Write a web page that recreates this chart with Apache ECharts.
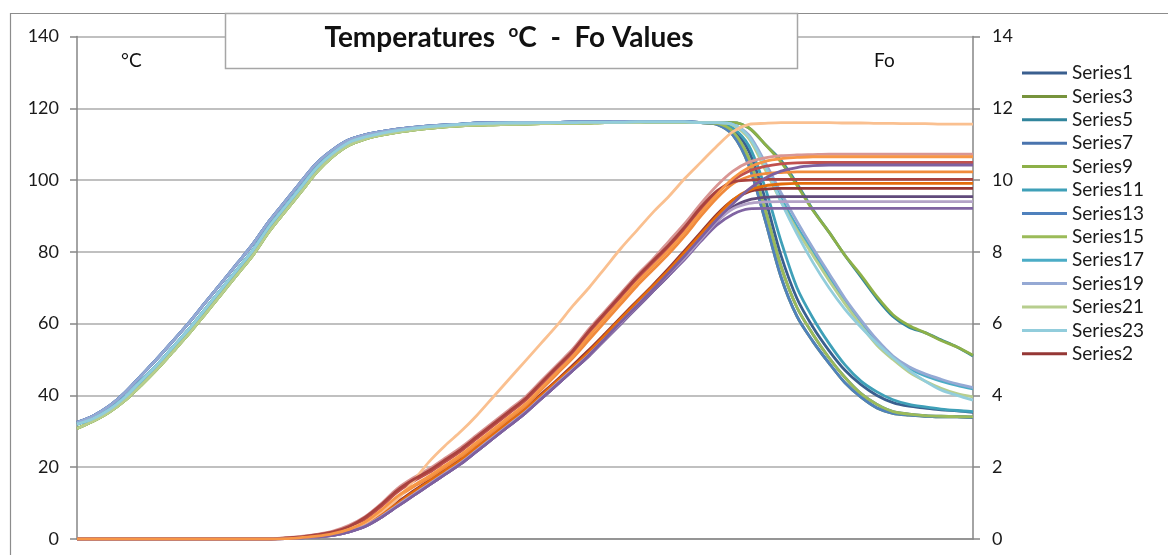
<!DOCTYPE html>
<html>
<head>
<meta charset="utf-8">
<script src="https://cdn.jsdelivr.net/npm/echarts@6/dist/echarts.min.js"></script>
<style>
html,body{margin:0;padding:0;background:#fff;}
#c{width:1168px;height:555px;}
</style>
</head>
<body>
<div id="c"></div>
<script>
// ---- categories (time steps) ----
const steps = [];
for (let i = 1; i <= 57; i++) steps.push(String(i));

// ---- axis ticks ----
const tempTicks = [0, 20, 40, 60, 80, 100, 120, 140];
const foTicks = [0, 2, 4, 6, 8, 10, 12, 14];

// ---- temperature series (left axis, degC) ----
const series1 = [32.5,34.3,37,40.8,45.5,50.2,55.2,60.3,65.8,71.2,76.7,82.2,88.5,94,99.5,104.8,108.5,111.2,112.6,113.5,114.2,114.7,115.1,115.4,115.6,
  115.9,116,116,116.1,116.1,116.1,116.2,116.2,116.2,116.3,116.3,116.3,116.3,116.3,
  116,115.8,114,108,95,79,67,59,52.5,47,43,40,38,37,36.5,36,35.7,35.3];
const series3 = [30.8,32.8,35.3,38.6,42.8,47.3,52.2,57.2,62.6,68.1,73.6,79.1,85.6,91.2,96.7,102.3,106.6,109.7,111.4,112.5,113.3,113.9,114.4,114.8,115.1,
  115.3,115.4,115.5,115.6,115.7,115.8,115.8,115.9,116,116,116,116.1,116.1,116.1,
  116,115.5,112.5,104,89,73,62,55,49,43.5,39.5,36.5,35,34.5,34.2,34,34,33.8];
const series5 = [32,33.5,36,39.5,44,48.5,53.5,58.5,64,69.5,75,80.5,87,92.5,98,103.5,107.5,110.5,112,113,113.8,114.4,114.9,115.2,115.5,
  115.7,115.8,115.9,115.9,116,116,116,116.1,116.1,116.1,116.2,116.2,116.2,116.2,
  116,116,116,114.5,110,105.5,99,91.7,85.5,79,73,67,62,59,57.5,55.5,53.5,51];
const series7 = [32.5,34.3,37,40.8,45.5,50.2,55.2,60.3,65.8,71.2,76.7,82.2,88.5,94,99.5,104.8,108.5,111.2,112.6,113.5,114.2,114.7,115.1,115.4,115.6,
  115.9,116,116,116.1,116.1,116.1,116.2,116.2,116.2,116.3,116.3,116.3,116.3,116.3,
  116,115.8,113.5,106,92,76,64.5,57,50.5,45,40.5,37.5,35.5,34.8,34.4,34.2,34.1,34];
const series9 = [30.8,32.8,35.3,38.6,42.8,47.3,52.2,57.2,62.6,68.1,73.6,79.1,85.6,91.2,96.7,102.3,106.6,109.7,111.4,112.5,113.3,113.9,114.4,114.8,115.1,
  115.3,115.4,115.5,115.6,115.7,115.8,115.8,115.9,116,116,116,116.1,116.1,116.1,
  116,116,116,114.5,110,105,98.5,91.5,85.5,79,73.5,67.5,62.5,59.5,57.5,55.3,53.5,51.2];
const series11 = [32,33.5,36,39.5,44,48.5,53.5,58.5,64,69.5,75,80.5,87,92.5,98,103.5,107.5,110.5,112,113,113.8,114.4,114.9,115.2,115.5,
  115.7,115.8,115.9,115.9,116,116,116,116.1,116.1,116.1,116.2,116.2,116.2,116.2,
  116,116,114.5,109.5,98,83,70,61.5,54.5,48.5,44,41,38.8,37.5,36.8,36.2,35.8,35.5];
const series13 = [32.5,34.3,37,40.8,45.5,50.2,55.2,60.3,65.8,71.2,76.7,82.2,88.5,94,99.5,104.8,108.5,111.2,112.6,113.5,114.2,114.7,115.1,115.4,115.6,
  115.9,116,116,116.1,116.1,116.1,116.2,116.2,116.2,116.3,116.3,116.3,116.3,116.3,
  116,115.5,112.5,104,89,73,62,55,49,43.5,39.5,36.5,35,34.5,34.2,34,34,33.8];
const series15 = [30.8,32.8,35.3,38.6,42.8,47.3,52.2,57.2,62.6,68.1,73.6,79.1,85.6,91.2,96.7,102.3,106.6,109.7,111.4,112.5,113.3,113.9,114.4,114.8,115.1,
  115.3,115.4,115.5,115.6,115.7,115.8,115.8,115.9,116,116,116,116.1,116.1,116.1,
  116,115.8,113.5,106,92,76,64.5,57,50.5,45,40.5,37.5,35.5,34.8,34.4,34.2,34.1,34];
const series17 = [32,33.5,36,39.5,44,48.5,53.5,58.5,64,69.5,75,80.5,87,92.5,98,103.5,107.5,110.5,112,113,113.8,114.4,114.9,115.2,115.5,
  115.7,115.8,115.9,115.9,116,116,116,116.1,116.1,116.1,116.2,116.2,116.2,116.2,
  116,116,115.5,112,104,95,87,80,73,66.5,60.5,55,50.5,47.5,45.5,44,42.8,41.8];
const series19 = [32.5,34.3,37,40.8,45.5,50.2,55.2,60.3,65.8,71.2,76.7,82.2,88.5,94,99.5,104.8,108.5,111.2,112.6,113.5,114.2,114.7,115.1,115.4,115.6,
  115.9,116,116,116.1,116.1,116.1,116.2,116.2,116.2,116.3,116.3,116.3,116.3,116.3,
  116,116,115.5,112.5,105,96.5,88.5,81,74,67,61,55.5,51,48,46,44.5,43.2,42.2];
const series21 = [30.8,32.8,35.3,38.6,42.8,47.3,52.2,57.2,62.6,68.1,73.6,79.1,85.6,91.2,96.7,102.3,106.6,109.7,111.4,112.5,113.3,113.9,114.4,114.8,115.1,
  115.3,115.4,115.5,115.6,115.7,115.8,115.8,115.9,116,116,116,116.1,116.1,116.1,
  116,116,115.3,111.5,103,94,86,79,72,65.5,59.5,54,50,46.5,44,42,40.5,39.6];
const series23 = [32,33.5,36,39.5,44,48.5,53.5,58.5,64,69.5,75,80.5,87,92.5,98,103.5,107.5,110.5,112,113,113.8,114.4,114.9,115.2,115.5,
  115.7,115.8,115.9,115.9,116,116,116,116.1,116.1,116.1,116.2,116.2,116.2,116.2,
  116,116,115.5,112,104,94,85,77,70,64,59,54.5,50.5,47,44,41.5,40,38.7];

// ---- Fo series (right axis) ----
const series2 = [0,0,0,0,0,0,0,0,0,0,0,0,0,
  0.02,0.05,0.09,0.14,0.25,0.42,0.7,1.02,1.33,1.63,1.93,2.23,2.58,2.93,3.28,3.63,4.03,4.43,4.85,5.27,5.72,6.18,6.63,7.08,7.55,8.05,8.55,9.05,9.45,9.68,
  9.75,9.77,9.77,9.77,9.77,9.77,9.77,9.77,9.77,9.77,9.77,9.77,9.77,9.77];
const series4 = [0,0,0,0,0,0,0,0,0,0,0,0,0,
  0.01,0.03,0.06,0.1,0.2,0.35,0.6,0.9,1.2,1.5,1.8,2.1,2.45,2.8,3.15,3.5,3.9,4.3,4.7,5.1,5.55,6.0,6.45,6.9,7.35,7.85,8.35,8.85,9.25,9.45,
  9.52,9.54,9.54,9.54,9.54,9.54,9.54,9.54,9.54,9.54,9.54,9.54,9.54,9.54];
const series6 = [0,0,0,0,0,0,0,0,0,0,0,0,0,
  0.02,0.04,0.08,0.13,0.24,0.4,0.67,0.98,1.3,1.6,1.9,2.2,2.55,2.9,3.25,3.6,4.0,4.4,4.8,5.22,5.68,6.15,6.6,7.05,7.5,8.0,8.5,9.0,9.45,9.72,
  9.84,9.89,9.91,9.91,9.91,9.91,9.91,9.91,9.91,9.91,9.91,9.91,9.91,9.91];
const series8 = [0,0,0,0,0,0,0,0,0,0,0,0,0,
  0.02,0.05,0.1,0.18,0.32,0.55,0.9,1.3,1.6,1.85,2.15,2.45,2.8,3.15,3.5,3.85,4.3,4.75,5.2,5.75,6.25,6.75,7.25,7.7,8.15,8.65,9.2,9.65,10.0,10.25,
  10.38,10.45,10.48,10.49,10.49,10.49,10.49,10.49,10.49,10.49,10.49,10.49,10.49,10.49];
const series10 = [0,0,0,0,0,0,0,0,0,0,0,0,0,
  0.01,0.03,0.06,0.1,0.2,0.35,0.6,0.9,1.2,1.5,1.8,2.1,2.45,2.8,3.15,3.5,3.9,4.3,4.7,5.1,5.55,6.0,6.45,6.9,7.35,7.8,8.3,8.75,9.05,9.2,
  9.21,9.21,9.21,9.21,9.21,9.21,9.21,9.21,9.21,9.21,9.21,9.21,9.21,9.21];
const series12 = [0,0,0,0,0,0,0,0,0,0,0,0,0,
  0.01,0.04,0.08,0.15,0.27,0.47,0.78,1.15,1.45,1.7,2.0,2.3,2.65,3.0,3.35,3.7,4.15,4.6,5.05,5.55,6.05,6.55,7.05,7.5,7.95,8.45,9.0,9.5,9.9,10.1,
  10.18,10.21,10.23,10.23,10.23,10.23,10.23,10.23,10.23,10.23,10.23,10.23,10.23,10.23];
const series14 = [0,0,0,0,0,0,0,0,0,0,0,0,0,
  0.03,0.07,0.13,0.22,0.38,0.62,0.98,1.4,1.7,1.95,2.25,2.55,2.9,3.25,3.6,3.95,4.4,4.85,5.3,5.85,6.35,6.85,7.35,7.8,8.3,8.8,9.35,9.85,10.25,10.5,
  10.62,10.68,10.7,10.71,10.72,10.72,10.72,10.72,10.72,10.72,10.72,10.72,10.72,10.72];
const series16 = [0,0,0,0,0,0,0,0,0,0,0,0,0,
  0.01,0.03,0.06,0.11,0.21,0.37,0.62,0.93,1.23,1.53,1.83,2.13,2.48,2.83,3.18,3.53,3.93,4.33,4.73,5.13,5.58,6.03,6.5,6.95,7.4,7.85,8.35,8.85,9.2,9.35,
  9.39,9.4,9.4,9.4,9.4,9.4,9.4,9.4,9.4,9.4,9.4,9.4,9.4,9.4];
const series18 = [0,0,0,0,0,0,0,0,0,0,0,0,0,
  0.02,0.05,0.1,0.17,0.3,0.45,0.75,1.1,1.6,2.15,2.6,3.0,3.45,3.95,4.45,4.95,5.45,5.95,6.5,7.0,7.55,8.1,8.6,9.1,9.55,10.05,10.5,10.95,11.35,11.55,
  11.58,11.6,11.6,11.6,11.6,11.59,11.59,11.58,11.58,11.57,11.57,11.56,11.56,11.56];
const series20 = [0,0,0,0,0,0,0,0,0,0,0,0,0,
  0.03,0.06,0.12,0.2,0.35,0.6,0.95,1.35,1.65,1.9,2.2,2.5,2.85,3.2,3.55,3.9,4.35,4.8,5.25,5.8,6.3,6.8,7.3,7.75,8.2,8.7,9.25,9.7,9.95,10.0,
  10.02,10.02,10.02,10.02,10.02,10.02,10.02,10.02,10.02,10.02,10.02,10.02,10.02,10.02];
const series22 = [0,0,0,0,0,0,0,0,0,0,0,0,0,
  0.01,0.03,0.06,0.1,0.2,0.35,0.6,0.9,1.2,1.5,1.8,2.1,2.45,2.8,3.15,3.5,3.9,4.3,4.7,5.12,5.58,6.05,6.5,6.95,7.42,7.9,8.4,8.9,9.35,9.75,
  10.05,10.25,10.35,10.4,10.42,10.42,10.42,10.42,10.42,10.42,10.42,10.42,10.42,10.42];
const series24 = [0,0,0,0,0,0,0,0,0,0,0,0,0,
  0.01,0.04,0.08,0.15,0.27,0.47,0.8,1.18,1.48,1.75,2.05,2.35,2.7,3.05,3.4,3.75,4.2,4.65,5.1,5.65,6.15,6.65,7.15,7.6,8.05,8.55,9.1,9.6,10.05,10.35,
  10.52,10.6,10.63,10.65,10.65,10.65,10.65,10.65,10.65,10.65,10.65,10.65,10.65,10.65];

const tempNames = ['Series1','Series3','Series5','Series7','Series9','Series11','Series13','Series15','Series17','Series19','Series21','Series23'];
const tempData = [series1,series3,series5,series7,series9,series11,series13,series15,series17,series19,series21,series23];
const tempColors = ['#3a5f8f','#77933c','#31859c','#4a74ae','#8db048','#3fa0b8','#4f81bd','#9bbb59','#4bacc6','#95a9d4','#b7ce8e','#92cddc'];

const foNames = ['Series2','Series4','Series6','Series8','Series10','Series12','Series14','Series16','Series18','Series20','Series22','Series24'];
const foData = [series2,series4,series6,series8,series10,series12,series14,series16,series18,series20,series22,series24];
const foColors = ['#953735','#604a7b','#e46c0a','#c0504d','#8064a2','#f08a3c','#d99694','#b3a2c7','#fac090','#a9423f','#7d60a0','#f79646'];

const legendNames = tempNames.concat(['Series2']);

const FONT = 'Lato, "Open Sans", sans-serif';

const seriesList = [];
tempNames.forEach((n, k) => seriesList.push({
  name: n, type: 'line', yAxisIndex: 0, data: tempData[k], smooth: 0.3,
  symbol: 'none', lineStyle: { width: 2.8, color: tempColors[k] }, itemStyle: { color: tempColors[k] }
}));
foNames.forEach((n, k) => seriesList.push({
  name: n, type: 'line', yAxisIndex: 1, data: foData[k], smooth: 0.3,
  symbol: 'none', lineStyle: { width: 2.8, color: foColors[k] }, itemStyle: { color: foColors[k] }
}));

const chart = echarts.init(document.getElementById('c'), null, { renderer: 'canvas' });
chart.setOption({
  animation: false,
  backgroundColor: '#ffffff',
  grid: { left: 77, right: 195, top: 36.5, bottom: 16, containLabel: false },
  xAxis: {
    type: 'category', data: steps, boundaryGap: false,
    axisLine: { show: true, lineStyle: { color: '#868686', width: 1.5 } },
    axisTick: { show: false }, axisLabel: { show: false }, splitLine: { show: false }
  },
  yAxis: [
    {
      type: 'value', min: tempTicks[0], max: tempTicks[tempTicks.length - 1], interval: 20,
      axisLine: { show: true, lineStyle: { color: '#868686', width: 1.5 } },
      axisTick: { show: true, inside: false, length: 7, lineStyle: { color: '#868686', width: 1.5 } },
      axisLabel: { margin: 18, color: '#1a1a1a', fontFamily: FONT, fontSize: 18 },
      splitLine: { show: true, lineStyle: { color: '#ababab', width: 1.5 } }
    },
    {
      type: 'value', min: foTicks[0], max: foTicks[foTicks.length - 1], interval: 2, position: 'right',
      axisLine: { show: true, lineStyle: { color: '#868686', width: 1.5 } },
      axisTick: { show: true, inside: false, length: 7, lineStyle: { color: '#868686', width: 1.5 } },
      axisLabel: { margin: 19, color: '#1a1a1a', fontFamily: FONT, fontSize: 18 },
      splitLine: { show: false }
    }
  ],
  legend: {
    orient: 'vertical', left: 1022, top: 63.5, padding: 0,
    data: legendNames, icon: 'rect', itemWidth: 45, itemHeight: 3, itemGap: 4.4,
    textStyle: { fontFamily: FONT, fontSize: 19, color: '#1a1a1a' },
    selectedMode: false
  },
  graphic: [
    { type: 'rect', silent: true, z: 1, shape: { x: 10.5, y: 13.5, width: 1200, height: 600 },
      style: { fill: 'none', stroke: '#8c8c8c', lineWidth: 1.2 } },
    { type: 'rect', silent: true, z: 100, shape: { x: 225.5, y: 13.5, width: 572, height: 55 },
      style: { fill: '#ffffff', stroke: '#a6a6a6', lineWidth: 1.5 } },
    { type: 'text', silent: true, z: 101, x: 509, y: 38,
      style: {
        text: 'Temperatures  {sup|o}C  -  Fo Values',
        fill: '#111', font: 'bold 28px ' + FONT, align: 'center', verticalAlign: 'middle',
        rich: { sup: { fontFamily: FONT, fontWeight: 'bold', fontSize: 17, verticalAlign: 'top', lineHeight: 30, fill: '#111' } }
      } },
    { type: 'text', silent: true, z: 101, x: 121, y: 61,
      style: { text: '°C', fill: '#111', font: '19px ' + FONT, align: 'left', verticalAlign: 'middle' } },
    { type: 'text', silent: true, z: 101, x: 874, y: 61,
      style: { text: 'Fo', fill: '#111', font: '19px ' + FONT, align: 'left', verticalAlign: 'middle' } }
  ],
  series: seriesList
});
</script>
</body>
</html>
